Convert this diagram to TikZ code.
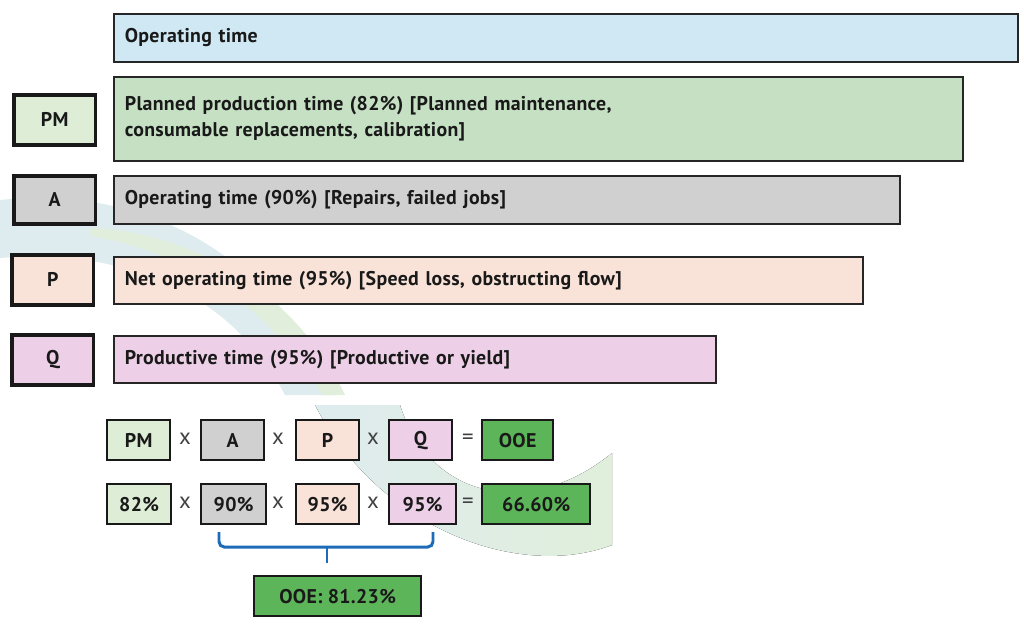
\documentclass[tikz,border=0pt]{standalone}
\usepackage{fontspec}
\setmainfont[LetterSpace=1.5]{PT Sans}
\usepackage{tikz}
\usetikzlibrary{positioning}
\definecolor{opblue}{HTML}{CFE8F3}
\definecolor{ppgreen}{HTML}{C5E0C3}
\definecolor{pmlight}{HTML}{DDEDD6}
\definecolor{agray}{HTML}{D0D0D0}
\definecolor{ppeach}{HTML}{F9E3D8}
\definecolor{qpink}{HTML}{EDD0E7}
\definecolor{ooegreen}{HTML}{5DB55A}
\definecolor{braceblue}{HTML}{1E6CB8}
\definecolor{swteal}{HTML}{DFECEF}
\definecolor{swgreen}{HTML}{E0EEDB}
\tikzset{
  bar/.style={draw=black!85, line width=1pt, anchor=north west, inner xsep=0.22cm, inner ysep=0pt, align=left},
  tag/.style={draw=black!90, line width=2pt, anchor=north west, minimum width=1.64cm, minimum height=1cm, inner sep=0pt},
  eqbox/.style={draw=black!90, line width=1.3pt, anchor=north west, minimum height=0.8cm, inner sep=0pt},
  op/.style={font=\mdseries\fontsize{13}{15}\selectfont, text=black!75},
  bracel/.style={draw=braceblue, line width=1.7pt}
}
\begin{document}
\begin{tikzpicture}[x=0.02cm, y=-0.02cm, every node/.style={font=\bfseries\fontsize{11.3}{14.7}\selectfont, text=black!90}]
\useasboundingbox (0,0) rectangle (1024,623);
\fill[swteal] (0,200) .. controls (140,185) and (270,250) .. (335,395) -- (285,395) .. controls (230,290) and (120,248) .. (0,258) -- cycle;
\fill[swgreen] (90,228) .. controls (200,232) and (300,300) .. (345,395) -- (322,395) .. controls (270,305) and (180,250) .. (90,236) -- cycle;
\fill[left color=swteal, right color=swgreen] (315,405) .. controls (380,530) and (520,580) .. (612,545) -- (612,453) .. controls (530,520) and (430,500) .. (400,405) -- cycle;
\node[bar, fill=opblue, text width=17.64cm, minimum height=0.96cm] (optime) at (113,13) {Operating time};
\node[bar, fill=ppgreen, text width=16.54cm, minimum height=1.68cm] (plan) at (113,76) {Planned production time (82\%) [Planned maintenance,\\consumable replacements, calibration]};
\node[bar, fill=agray, text width=15.28cm, minimum height=0.96cm] (oper) at (113,175) {Operating time (90\%) [Repairs, failed jobs]};
\node[bar, fill=ppeach, text width=14.54cm, minimum height=0.94cm] (net) at (113,256) {Net operating time (95\%) [Speed loss, obstructing flow]};
\node[bar, fill=qpink, text width=11.60cm, minimum height=0.94cm] (prod) at (113,335) {Productive time (95\%) [Productive or yield]};
\node[tag, fill=pmlight] (tPM) at (12,93) {PM};
\node[tag, fill=agray, minimum height=0.96cm] (tA) at (12,174) {A};
\node[tag, fill=ppeach] (tP) at (10,253) {P};
\node[tag, fill=qpink] (tQ) at (10,333) {Q};
\node[eqbox, fill=pmlight, minimum width=1.26cm] (ePM) at (106,419) {PM};
\node[eqbox, fill=agray, minimum width=1.26cm] (eA) at (200,419) {A};
\node[eqbox, fill=ppeach, minimum width=1.26cm] (eP) at (295,419) {P};
\node[eqbox, fill=qpink, minimum width=1.26cm] (eQ) at (388,419) {Q};
\node[eqbox, fill=ooegreen, minimum width=1.42cm] (eOOE) at (481,419) {OOE};
\node[eqbox, fill=pmlight, minimum width=1.28cm] (v82) at (106,483) {82\%};
\node[eqbox, fill=agray, minimum width=1.30cm] (v90) at (200,483) {90\%};
\node[eqbox, fill=ppeach, minimum width=1.26cm] (v95p) at (295,483) {95\%};
\node[eqbox, fill=qpink, minimum width=1.34cm] (v95q) at (388,483) {95\%};
\node[eqbox, fill=ooegreen, minimum width=2.16cm] (vres) at (481,483) {66.60\%};
\node[eqbox, fill=ooegreen, minimum width=3.34cm] (tot) at (253,575) {OOE: 81.23\%};
\foreach \x/\s in {185/x, 278/x, 373/x, 468/=}{
  \node[op] (opa\x) at (\x,439) {\s};
  \node[op] (opb\x) at (\x,503) {\s};
}
\coordinate (bl) at (219,532);
\coordinate (br) at (433,532);
\coordinate (bm) at (327,547);
\coordinate (btip) at (327,563);
\draw[bracel, rounded corners=3pt] (bl) |- (br |- bm) -- (br);
\draw[bracel] (bm) -- (btip);
\end{tikzpicture}
\end{document}
